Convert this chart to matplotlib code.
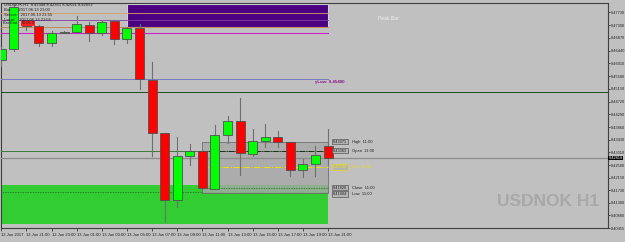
import matplotlib
matplotlib.use("Agg")
import matplotlib.pyplot as plt
from matplotlib.patches import Rectangle

# hourly bars, 12 Jun 19:00 .. 13 Jun 21:00
opens = [8.46123, 8.46487, 8.47459, 8.47260, 8.46710, 8.47041, 8.47074, 8.47316, 8.47041,
         8.47426, 8.46842, 8.47207, 8.45460, 8.43660, 8.41406, 8.42897, 8.43063, 8.41770,
         8.43593, 8.44077, 8.42950, 8.43395, 8.43527, 8.43361, 8.42400, 8.42619, 8.43229]
highs = [8.46554, 8.47979, 8.47482, 8.47316, 8.47117, 8.47117, 8.47591, 8.47416, 8.47482,
         8.47482, 8.47250, 8.47349, 8.46066, 8.43660, 8.43527, 8.43282, 8.43063, 8.43945,
         8.44243, 8.44853, 8.43779, 8.43978, 8.43726, 8.43361, 8.42785, 8.43229, 8.43779]
lows = [8.45934, 8.46421, 8.47150, 8.46587, 8.46587, 8.47018, 8.47041, 8.46753, 8.46952,
        8.46653, 8.46686, 8.45138, 8.42897, 8.40653, 8.41150, 8.42566, 8.41790, 8.41770,
        8.43338, 8.42234, 8.42874, 8.43196, 8.43172, 8.42211, 8.42178, 8.42201, 8.42619]
closes = [8.46487, 8.47903, 8.47260, 8.46710, 8.47041, 8.47074, 8.47349, 8.47018, 8.47406,
          8.46842, 8.47207, 8.45470, 8.43670, 8.41406, 8.42897, 8.43063, 8.41790, 8.43593,
          8.44077, 8.42974, 8.43395, 8.43527, 8.43361, 8.42400, 8.42619, 8.42930, 8.42818]

x_labels = ["12 Jun 2017", "12 Jun 21:00", "12 Jun 23:00", "13 Jun 01:00", "13 Jun 03:00",
            "13 Jun 05:00", "13 Jun 07:00", "13 Jun 09:00", "13 Jun 11:00", "13 Jun 13:00",
            "13 Jun 15:00", "13 Jun 17:00", "13 Jun 19:00", "13 Jun 21:00"]
y_ticks = [8.47730, 8.47300, 8.46870, 8.46440, 8.46010, 8.45580, 8.45150, 8.44720, 8.44290,
           8.43860, 8.43430, 8.43010, 8.42580, 8.42150, 8.41730, 8.41300, 8.40880, 8.40455]

# levels drawn on the chart
peak_top, peak_bot = 8.48012, 8.47250
peak_lines = [8.47704, 8.47459]
magenta_level = 8.47041
ylow = 8.45480
dark_level = 8.45052
open_level = 8.43063
high_11, close_11, low_11 = 8.43371, 8.41790, 8.41624
pivot_11 = 8.42509
zone_top = 8.41903
zone_dots = 8.41681
bid = closes[-1]

BG = "#c0c0c0"
plt.rcParams["font.family"] = ["Liberation Sans", "DejaVu Sans"]

fig = plt.figure(figsize=(6.25, 2.42), dpi=100, facecolor=BG)
ax = fig.add_axes([1 / 625, 14 / 242, 607 / 625, 225 / 242], facecolor=BG)
X0, X1 = -0.02, 48.27
Y0, Y1 = 8.40587, 8.48046
ax.set_xlim(X0, X1)
ax.set_ylim(Y0, Y1)

n = len(opens)
right = n - 1

# green demand zone
ax.add_patch(Rectangle((X0, Y0), right - X0, zone_top - Y0, facecolor="#32cd32", edgecolor="none", zorder=1))
ax.plot([X0, right], [zone_dots, zone_dots], color="#1e6e1e", lw=0.6, ls=(0, (1, 1)), zorder=2)

# peak bar box
ax.add_patch(Rectangle((10, peak_bot), right - 10, peak_top - peak_bot, facecolor="#4b0082",
                       edgecolor="#d0d0d0", lw=0.8, zorder=2))
ax.plot([X0, right], [peak_lines[0]] * 2, color="#d9a066", lw=0.6, zorder=3)
ax.plot([X0, right], [peak_lines[1]] * 2, color="#8040a0", lw=0.6, zorder=3)
ax.plot([X0, right], [peak_bot] * 2, color="#c08040", lw=0.6, zorder=3)
ax.text(30, 8.47510, "Peak Bar", color="#f0f0f0", fontsize=3.6, va="center", zorder=5)

ax.plot([X0, right], [magenta_level] * 2, color="#cc22cc", lw=0.8, zorder=3)
ax.plot([X0, right], [ylow] * 2, color="#7a7ac0", lw=0.7, zorder=3)
ax.text(25.0, ylow - 0.0009, "yLow: 8.45480", color="#8b1a8b", fontsize=3.2, va="center",
        fontweight="bold", zorder=5)
ax.plot([X0, X1], [dark_level] * 2, color="#1e4a1e", lw=0.7, zorder=3)
ax.plot([X0, right], [open_level] * 2, color="#3c7a3c", lw=0.7, zorder=3)
ax.plot([X0, X1], [bid] * 2, color="#8c8c8c", lw=0.9, zorder=3)

# 11:00 range box
ax.add_patch(Rectangle((16, low_11), right - 16, high_11 - low_11, facecolor="#a8a8a8",
                       edgecolor="#606060", lw=0.6, alpha=0.8, zorder=2))
ax.plot([16, right], [open_level] * 2, color="#202020", lw=0.6, ls="-.", zorder=3)
ax.plot([16, right], [pivot_11] * 2, color="#f0e000", lw=0.7, ls="-.", zorder=3)
ax.plot([16, right], [close_11] * 2, color="#1e6e1e", lw=0.6, ls=(0, (1, 1)), zorder=3)

# candles
for i in range(n):
    up = closes[i] >= opens[i]
    ax.plot([i, i], [lows[i], highs[i]], color="#707070", lw=0.8, zorder=4)
    lo, hi = min(opens[i], closes[i]), max(opens[i], closes[i])
    ax.add_patch(Rectangle((i - 0.36, lo), 0.72, max(hi - lo, 0.00015),
                           facecolor="#00ff00" if up else "#ff0000",
                           edgecolor="#505050", lw=0.6, zorder=5))

# level tags to the right of the 11:00 box
tags = [(high_11, "High  11:00", "#202020"), (open_level, "Open  11:00", "#202020"),
        (pivot_11, "Pivt  11:00", "#f0e000"), (close_11 + 0.0003, "Close  11:00", "#202020"),
        (low_11 - 0.0002, "Low  11:00", "#202020")]
for val, name, col in tags:
    ax.text(26.4, val, f"{val:.5f}", fontsize=2.8, va="center", color=col,
            bbox=dict(boxstyle="square,pad=0.2", fc="#b4b4b4",
                      ec="#404040" if col == "#202020" else col, lw=0.4), zorder=6)
    ax.text(27.9, val, name, fontsize=3.0, va="center", color=col, zorder=6)

# watermark
ax.text(47.6, 8.4134, "USDNOK H1", fontsize=12.5, fontweight="bold", color="#a8a8a8",
        ha="right", va="center", zorder=1)

# header info
info = ["USDNOK,H1  8.42348 8.42351 8.42021 8.42052", "Bar:      2017.06.13 21:00",
        "Server:   2017.06.13 21:55", "Local:    2017.06.13 21:55"]
for k, line in enumerate(info):
    fig.text(4 / 625, 1 - (4.5 + 5.2 * k) / 242, line, fontsize=3.0, va="center", color="#202020")
fig.text(3 / 625, 1 - 23.5 / 242, "Bar End", fontsize=2.8, va="center", color="#202020")
fig.text(22 / 625, 1 - 23.5 / 242, "00:05:0", fontsize=2.8, va="center", color="#202020",
         bbox=dict(boxstyle="square,pad=0.15", fc="#ff2020", ec="none"))

# axes
ax.set_yticks(y_ticks)
ax.set_yticklabels([f"{v:.5f}" for v in y_ticks])
ax.yaxis.tick_right()
ax.tick_params(axis="y", labelsize=2.8, length=1.5, width=0.5, pad=0.5, colors="#202020")
ax.set_xticks(range(0, 2 * len(x_labels), 2))
ax.set_xticklabels(x_labels, ha="left")
ax.tick_params(axis="x", labelsize=3.0, length=2, width=0.5, pad=1.5, colors="#202020")
for s in ax.spines.values():
    s.set_color("#404040")
    s.set_linewidth(0.8)

# current price tag
ax.text(48.33, bid, f"{bid:.5f}", fontsize=2.8, color="white", va="center", ha="left",
        bbox=dict(boxstyle="square,pad=0.1", fc="black", ec="none"), zorder=7, clip_on=False)

fig.savefig("out.png", dpi=100, facecolor=BG)
